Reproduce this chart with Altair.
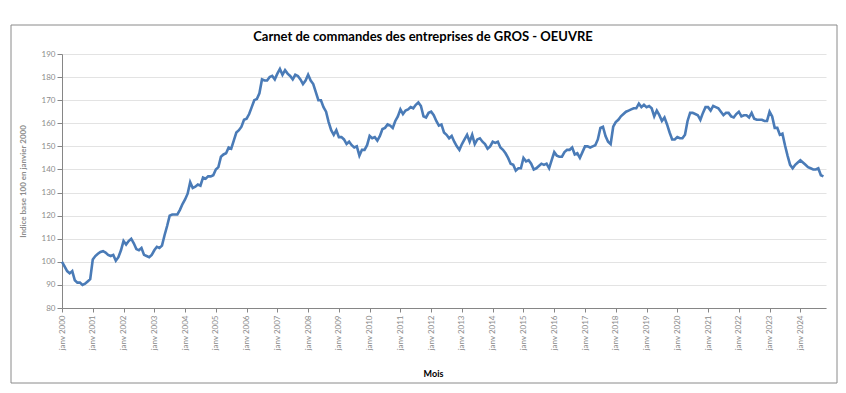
import altair as alt
import pandas as pd

title_text = "Carnet de commandes des entreprises de GROS - OEUVRE"
y_title = "Indice base 100 en janvier 2000"
x_title = "Mois"

start_year = 2000
y2000 = [100, 98, 96, 95, 96, 92, 91, 91, 90, 90.5, 91.5, 92.5]
y2001 = [101, 102.5, 103.5, 104.3, 104.6, 104, 103, 102.5, 103, 100.5, 102, 105]
y2002 = [109, 107.5, 109, 110, 108, 105.5, 105, 106, 103, 102.5, 102, 103]
y2003 = [105, 106.5, 106, 107, 111.5, 115.5, 120, 120.5, 120.5, 120.5, 122.5, 125]
y2004 = [127, 129.5, 134.5, 132, 132.5, 133.5, 133, 136.5, 136, 137, 137, 137.5]
y2005 = [140, 141, 145.5, 146.5, 147, 149.5, 149, 152.5, 156, 157, 158.5, 161.5]
y2006 = [162, 164, 167, 170, 170.5, 173, 179, 178.5, 178.5, 180, 180.5, 179]
y2007 = [181.5, 183.5, 181, 183, 181.5, 180.5, 179, 181, 180.5, 179, 177, 178.5]
y2008 = [181, 178.5, 177, 173.5, 170, 170, 167, 165, 160.5, 157, 155, 157]
y2009 = [154, 154, 153, 151, 152, 150.5, 149.5, 150, 146, 148.5, 148.5, 150.5]
y2010 = [154.5, 153.5, 154, 152.5, 154.5, 157.5, 158, 159.5, 159, 158, 161, 163]
y2011 = [166, 164, 165.5, 166, 167, 166.5, 168, 169, 167.5, 163, 162.5, 164.5]
y2012 = [165, 163.5, 161, 159, 159.5, 156, 155, 153.5, 154.5, 152, 150, 148.5]
y2013 = [151, 153, 155, 152, 155, 151, 153, 153.5, 152, 151, 149, 150]
y2014 = [152, 151.5, 152, 149.5, 148.5, 147, 145, 142.5, 142, 139.5, 140.5, 140.5]
y2015 = [145, 143.5, 144, 142.5, 140, 140.5, 141.5, 142.5, 142, 142.5, 140.5, 144]
y2016 = [147.5, 146, 145.5, 145.5, 147.5, 148.5, 148.5, 149.5, 146.5, 147, 145, 147.5]
y2017 = [150, 150, 149.5, 150, 150.5, 153, 158, 158.5, 154.5, 152, 151, 158.5]
y2018 = [160.5, 161.5, 163, 164, 165, 165.5, 166, 166.5, 166.5, 168.5, 167, 168]
y2019 = [167, 167.5, 166.5, 163, 165.5, 163.5, 161, 162.5, 159.5, 156, 153, 153]
y2020 = [154, 153.5, 153.5, 155, 161, 164.5, 164.5, 164, 163.5, 161.5, 164.5, 167]
y2021 = [167, 165.5, 167.5, 167, 166.5, 165, 163.5, 164.5, 164.5, 163, 162.5, 164]
y2022 = [165, 163, 163.5, 163.5, 162.5, 164.5, 162, 161.5, 161.5, 161.5, 161, 161]
y2023 = [165, 163, 158, 158, 155, 155.5, 150.5, 146, 142, 140.5, 142, 143]
y2024 = [144, 143, 142, 141, 140.5, 140, 140, 140.5, 137.5, 137]

series = [y2000, y2001, y2002, y2003, y2004, y2005, y2006, y2007, y2008, y2009,
          y2010, y2011, y2012, y2013, y2014, y2015, y2016, y2017, y2018, y2019,
          y2020, y2021, y2022, y2023, y2024]

rows = []
for i, vals in enumerate(series):
    for m, v in enumerate(vals):
        rows.append({"mois": i * 12 + m, "indice": v})
df = pd.DataFrame(rows)

year_ticks = [i * 12 for i in range(len(series))]
y_ticks = list(range(80, 191, 10))

line = alt.Chart(df).mark_line(color="#4a7bb7", strokeWidth=2.6).encode(
    x=alt.X("mois:Q",
            scale=alt.Scale(domain=[0, 298], nice=False, zero=False),
            axis=alt.Axis(values=year_ticks, grid=False,
                          labelExpr=f"'janv ' + ({start_year} + datum.value / 12)",
                          labelAngle=-90, labelFontSize=8, labelColor="#8c8c8c",
                          labelFont="Lato", labelPadding=3,
                          tickSize=4, tickColor="#868686",
                          domainColor="#868686",
                          title=x_title, titleFont="Lato", titleFontSize=9,
                          titleFontWeight="bold", titleColor="black",
                          titleX=371, titleY=65, titleAlign="center",
                          titleBaseline="middle")),
    y=alt.Y("indice:Q",
            scale=alt.Scale(domain=[80, 190], nice=False, zero=False),
            axis=alt.Axis(values=y_ticks, grid=True, gridColor="#e3e3e3",
                          labelFontSize=8, labelColor="#8c8c8c", labelFont="Lato",
                          labelPadding=2, tickSize=5, tickColor="#868686",
                          domainColor="#868686",
                          title=y_title, titleFont="Lato", titleFontSize=8,
                          titleFontWeight="bold", titleColor="#8c8c8c",
                          titleX=-39, titleY=127, titleAlign="center",
                          titleBaseline="middle", titleAngle=270)),
)

one_row = pd.DataFrame({"t": [title_text]})

border = alt.Chart(one_row).mark_rect(
    fill="transparent", stroke="#8a8a8a", strokeWidth=1
).encode(x=alt.value(-51), x2=alt.value(775), y=alt.value(-29), y2=alt.value(329))

title = alt.Chart(one_row).mark_text(
    font="Lato", fontSize=13, fontWeight="bold", color="black",
    align="center", baseline="middle"
).encode(text="t:N", x=alt.value(361), y=alt.value(-17))

chart = alt.layer(border, line, title).properties(
    width=764, height=254,
    padding={"left": 54, "top": 46, "right": 12, "bottom": 76},
    autosize=alt.AutoSizeParams(type="none"),
).configure_view(stroke=None)

chart.save("out.html", embed_options={"renderer": "svg", "actions": False})
